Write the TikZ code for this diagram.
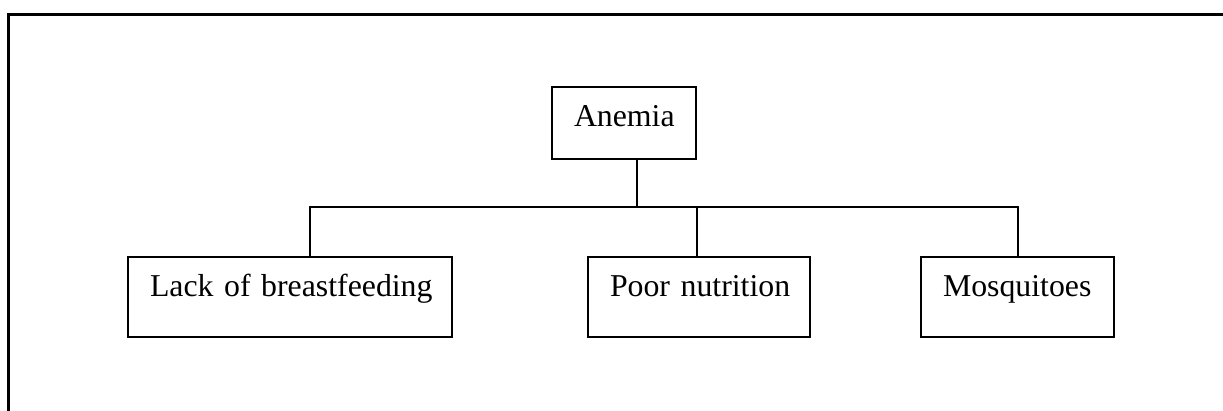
\documentclass[tikz,border=0pt]{standalone}
\usepackage{fontspec}
\setmainfont{Liberation Serif}
\begin{document}
\begin{tikzpicture}[x=1pt,y=-1pt,
  box/.style={draw,line width=2pt,rectangle,inner xsep=11pt,inner ysep=0pt,
    align=left,font=\fontsize{31.8}{36}\selectfont,text height=40pt,text depth=40pt,
    execute at begin node={\hyphenpenalty=10000\hspace*{11pt}}},
  conn/.style={line width=2pt},
  frame/.style={line width=3pt}]
\useasboundingbox (0,0) rectangle (1223,411);
\draw[frame] (8.7,430) -- (8.7,15) -- (1240,15);
\node[box,anchor=north west,text width=122pt,text height=39.7pt,text depth=32.3pt] (anemia) at (551,86) {Anemia};
\node[box,anchor=north west,text width=302pt] (lack) at (127,256) {Lack of breastfeeding};
\node[box,anchor=north west,text width=200pt] (poor) at (587,256) {Poor nutrition};
\node[box,anchor=north west,text width=171pt] (mosq) at (920,256) {Mosquitoes};
\coordinate (bus) at (0,207);
\draw[conn] ([xshift=13pt]anemia.south) -- ([xshift=13pt]anemia.south |- bus);
\draw[conn] ([xshift=20pt]lack.north) -- ([xshift=20pt]lack.north |- bus) -| (mosq.north);
\draw[conn] ([xshift=-2pt]poor.north) -- ([xshift=-2pt]poor.north |- bus);
\end{tikzpicture}
\end{document}
